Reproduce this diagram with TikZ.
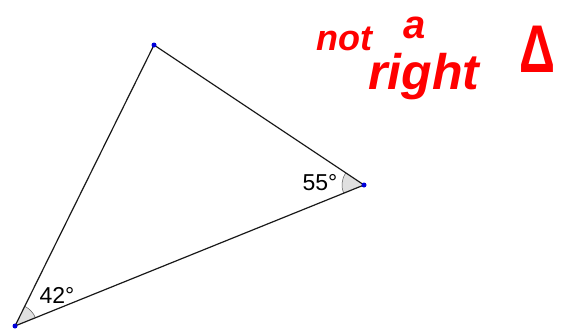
\documentclass[tikz,border=0pt]{standalone}
\usepackage{fontspec}
\setmainfont{Liberation Sans}
\usetikzlibrary{angles}

\begin{document}
\begin{tikzpicture}[
    x=1pt, y=1pt,
    every node/.style={font=\fontsize{23}{23}\selectfont},
    side/.style={draw=black!90, line width=1.2pt},
    vertex/.style={circle, fill=blue!85!black, inner sep=0pt, minimum size=5pt},
    anglemark/.style={draw=black!65, fill=black!12, line width=0.5pt, angle radius=22pt},
    note/.style={text=red, inner sep=0pt}
]
    \useasboundingbox (0,0) rectangle (565,333);

    % Eckpunkte
    \coordinate (A) at (154,288);
    \coordinate (B) at (364,148);
    \coordinate (C) at (15,7);

    % Winkelmarkierungen
    \pic[anglemark] {angle = B--C--A};
    \pic[anglemark] {angle = A--B--C};

    % Seiten
    \draw[side] (A) -- (B) -- (C) -- cycle;

    \node[vertex] (pA) at (A) {};
    \node[vertex] (pB) at (B) {};
    \node[vertex] (pC) at (C) {};

    % Winkelbeschriftungen
    \node (wC) at (57,38) {42°};
    \node (wB) at (320,150) {55°};

    % Notiz
    \node[note, font=\bfseries\itshape\fontsize{36}{36}\selectfont] (nnot) at (344,294) {not};
    \node[note, font=\bfseries\itshape\fontsize{40}{40}\selectfont] (na) at (415,305) {a};
    \node[note, font=\bfseries\itshape\fontsize{50}{50}\selectfont] (nright) at (424,256) {right};
    \node[note, yscale=1.35, font=\bfseries\fontsize{50}{50}\selectfont] (ndelta) at (537,284) {Δ};
\end{tikzpicture}
\end{document}
